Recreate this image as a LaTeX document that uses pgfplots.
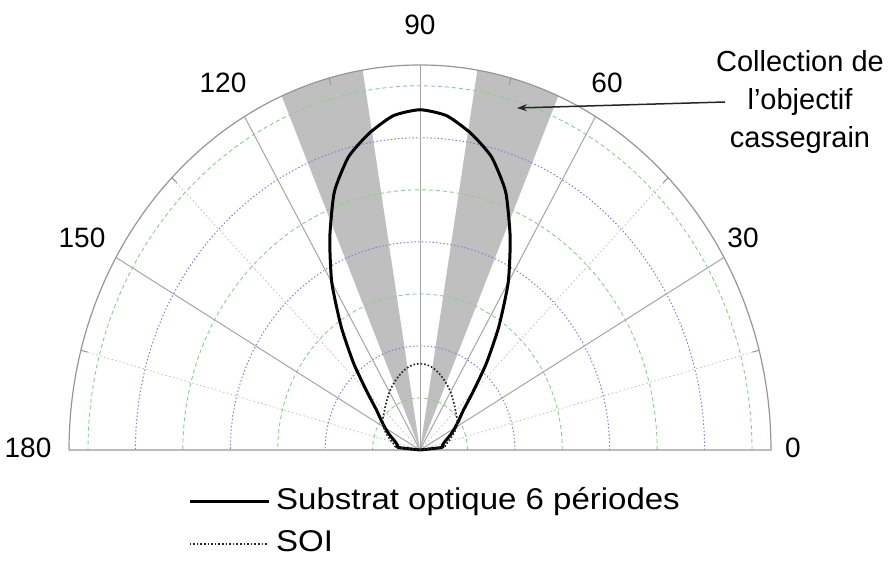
\documentclass[border=0pt]{standalone}
\usepackage{pgfplots}
\pgfplotsset{compat=1.18}
\usepackage{pgfplotstable}
\usepackage{fontspec}
\setmainfont{Liberation Sans}
\newfontfamily\legfont[FakeStretch=1.1]{Liberation Sans}
\usetikzlibrary{arrows.meta}

\definecolor{gridgreen}{RGB}{140,205,140}
\definecolor{gridblue}{RGB}{125,125,215}
\definecolor{sector}{RGB}{191,191,191}
\definecolor{frame}{RGB}{150,150,150}
\definecolor{spoke}{RGB}{165,165,165}

% angle (deg)  radius
\pgfplotstableread{
a r
0 0
6 0.46
10 0.48
15 0.52
20 0.60
25 0.72
30 0.85
35 1.00
40 1.20
45 1.58
50 2.18
55 2.90
60 3.72
65 4.50
70 5.28
75 5.83
80 6.18
85 6.45
90 6.54
95 6.45
100 6.18
105 5.83
110 5.28
115 4.50
120 3.72
125 2.90
130 2.18
135 1.58
140 1.20
145 1.00
150 0.85
155 0.72
160 0.60
165 0.52
170 0.48
174 0.46
180 0
}\substrat

\pgfplotstableread{
a r
0 0
6 0.50
10 0.54
15 0.62
20 0.70
25 0.80
30 0.89
35 0.96
40 1.01
45 1.06
50 1.13
55 1.20
60 1.29
65 1.37
70 1.45
75 1.53
80 1.60
85 1.645
90 1.66
95 1.645
100 1.60
105 1.53
110 1.45
115 1.37
120 1.29
125 1.20
130 1.13
135 1.06
140 1.01
145 0.96
150 0.89
155 0.80
160 0.70
165 0.62
170 0.54
174 0.50
180 0
}\soi

% collection cone of the Cassegrain objective
\pgfplotstableread{
a r
0 0
66.8 7.4
69 7.4
71 7.4
73 7.4
75 7.4
77 7.4
79 7.4
80.6 7.4
0 0
}\coneright
\pgfplotstableread{
a r
0 0
99.4 7.4
101 7.4
103 7.4
105 7.4
107 7.4
109 7.4
111 7.4
113.2 7.4
0 0
}\coneleft

\begin{document}
\begin{tikzpicture}
\begin{axis}[
  x=47.43pt, y=52.03pt,
  xmin=-7.4, xmax=7.4, ymin=0, ymax=7.4,
  hide axis, clip=false,
  legend image code/.code={\draw[#1] (0pt,0pt) -- (79pt,0pt);},
  legend cell align=left,
  legend style={draw=none, fill=none, at={(axis description cs:0.1695,-0.091)}, anchor=north west,
    font=\legfont\fontsize{30}{36}\selectfont, inner sep=0pt, row sep=9pt, column sep=4pt,
    nodes={inner sep=2pt, text height=22pt, text depth=7pt}},
]
\coordinate (O) at (axis cs:0,0);
% shaded collection cones
\addplot[draw=none, fill=sector, data cs=polar, forget plot] table[x=a,y=r]{\coneright} -- cycle;
\addplot[draw=none, fill=sector, data cs=polar, forget plot] table[x=a,y=r]{\coneleft} -- cycle;
% circular grid
\pgfplotsinvokeforeach{1,3,5,7}{
  \draw[gridgreen, line width=0.9pt, dash pattern=on 4pt off 3pt]
    (axis cs:#1,0) arc[start angle=0, end angle=180, x radius={#1*47.43pt}, y radius={#1*52.03pt}];
}
\pgfplotsinvokeforeach{2,4,6}{
  \draw[gridblue, line width=1pt, dash pattern=on 1.4pt off 2.2pt]
    (axis cs:#1,0) arc[start angle=0, end angle=180, x radius={#1*47.43pt}, y radius={#1*52.03pt}];
}
% radial lines
\pgfplotsinvokeforeach{15,45,75,105,135,165}{
  \draw[black!25, line width=0.8pt, dash pattern=on 1.5pt off 2.5pt]
    (O) -- ++(#1:{7.4*47.43pt} and {7.4*52.03pt});
  \draw[frame, line width=1pt] (O) ++(#1:{7.4*47.43pt} and {7.4*52.03pt}) -- ++(#1+180:7pt);
}
\pgfplotsinvokeforeach{30,60,90,120,150}{
  \draw[spoke, line width=1pt] (O) -- ++(#1:{7.4*47.43pt} and {7.4*52.03pt});
}
% frame
\draw[frame, line width=1.2pt] (axis cs:-7.4,0) -- (axis cs:7.4,0)
  arc[start angle=0, end angle=180, x radius={7.4*47.43pt}, y radius={7.4*52.03pt}];
% curves
\addplot[black, line width=3pt, smooth, tension=0.35, data cs=polar] table[x=a,y=r]{\substrat};
\addlegendentry{Substrat optique 6 périodes}
\addplot[black!85, line width=1.7pt, dash pattern=on 1.6pt off 2pt, smooth, tension=0.35, data cs=polar] table[x=a,y=r]{\soi};
\addlegendentry{SOI}
% angle labels
\begin{scope}[every node/.style={font=\fontsize{28}{34}\selectfont}]
\node at ([shift={(0pt,425pt)}]O) {90};
\node at ([shift={(-197pt,367pt)}]O) {120};
\node at ([shift={(187pt,367pt)}]O) {60};
\node at ([shift={(-338pt,212pt)}]O) {150};
\node at ([shift={(323pt,212pt)}]O) {30};
\node at ([shift={(-392pt,2pt)}]O) {180};
\node at ([shift={(373pt,2pt)}]O) {0};
\end{scope}
% annotation
\node[align=center, font=\fontsize{29}{38}\selectfont] at ([shift={(380pt,348pt)}]O)
  {Collection de\\l'objectif\\cassegrain};
\draw[black!85, line width=1.5pt, -{Stealth[length=10pt,width=7pt]}]
  ([shift={(305pt,348pt)}]O) -- ([shift={(97pt,342pt)}]O);
\end{axis}
\pgfresetboundingbox
\path[use as bounding box] ([shift={(-420pt,-110pt)}]O) rectangle ([shift={(469pt,450pt)}]O);
\end{tikzpicture}
\end{document}
